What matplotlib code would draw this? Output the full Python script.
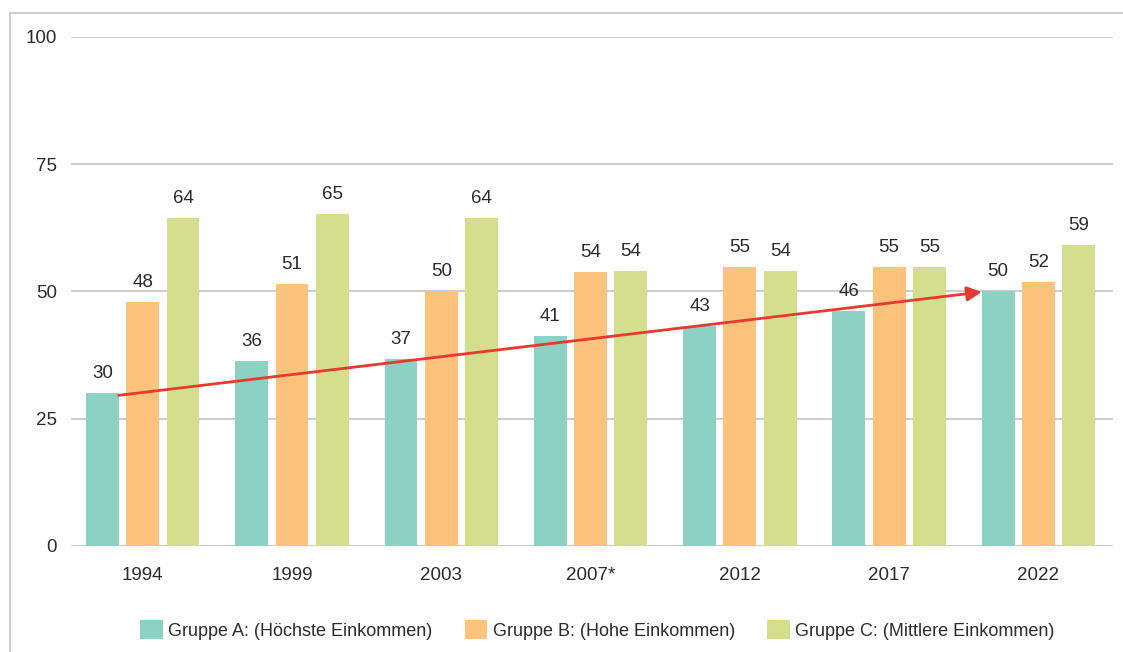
import numpy as np
import matplotlib.pyplot as plt
from matplotlib.lines import Line2D

plt.rcParams['font.family'] = ['Liberation Sans', 'DejaVu Sans']

jahre = ['1994', '1999', '2003', '2007*', '2012', '2017', '2022']
gruppe_a = [30.1, 36.3, 36.7, 41.3, 43.2, 46.2, 50.1]
gruppe_b = [47.9, 51.4, 50.1, 53.8, 54.8, 54.8, 51.9]
gruppe_c = [64.4, 65.2, 64.4, 54.0, 54.0, 54.8, 59.1]
namen = ['Gruppe A: (Höchste Einkommen)', 'Gruppe B: (Hohe Einkommen)',
         'Gruppe C: (Mittlere Einkommen)']
farben = ['#8dd1c5', '#fdc37d', '#d4df8e']

fig = plt.figure(figsize=(11.23, 6.52), dpi=100)
ax = fig.add_axes([0.0632, 0.1626, 0.928, 0.7807])

x = np.arange(len(jahre))
w = 0.22
off = 0.27
textfarbe = '#2b2b2b'
for i, (werte, name, f) in enumerate(zip([gruppe_a, gruppe_b, gruppe_c], namen, farben)):
    pos = x + (i - 1) * off
    ax.bar(pos, werte, width=w, color=f, label=name, zorder=2)
    for p, v in zip(pos, werte):
        ax.text(p, v + 2.2, f'{round(v)}', ha='center', va='bottom',
                fontsize=13.5, color=textfarbe)

# Trendpfeil
ax.annotate('', xy=(x[-1] - off - w / 2, 49.9), xytext=(x[0] - off + w / 2, 29.6),
            arrowprops=dict(arrowstyle='-|>', color='#e8392f', lw=2,
                            mutation_scale=22, shrinkA=0, shrinkB=0), zorder=4)

ax.set_xlim(-0.48, len(jahre) - 0.5)
ax.set_ylim(0, 100)
ax.set_yticks([0, 25, 50, 75, 100])
ax.set_xticks(x)
ax.set_xticklabels(jahre)
ax.tick_params(length=0, labelsize=13.5, colors=textfarbe)
ax.tick_params(axis='x', pad=15)
ax.tick_params(axis='y', pad=10)
ax.grid(axis='y', color='#c8c8c8', lw=1.3, zorder=0)
for s in ax.spines.values():
    s.set_visible(False)
ax.axhline(0, color='#c8c8c8', lw=1.5, zorder=1)

fig.legend(loc='center', bbox_to_anchor=(0.532, 0.034), ncol=3, frameon=False,
           fontsize=13, handlelength=1.25, handleheight=1.25, columnspacing=1.8,
           handletextpad=0.3, labelcolor=textfarbe)

# Rahmen oben und links
fig.add_artist(Line2D([0.009, 1.0], [0.98, 0.98], color='#c8c8c8', lw=1.3))
fig.add_artist(Line2D([0.009, 0.009], [0.0, 0.98], color='#c8c8c8', lw=1.3))

fig.savefig('out.png', dpi=100)
